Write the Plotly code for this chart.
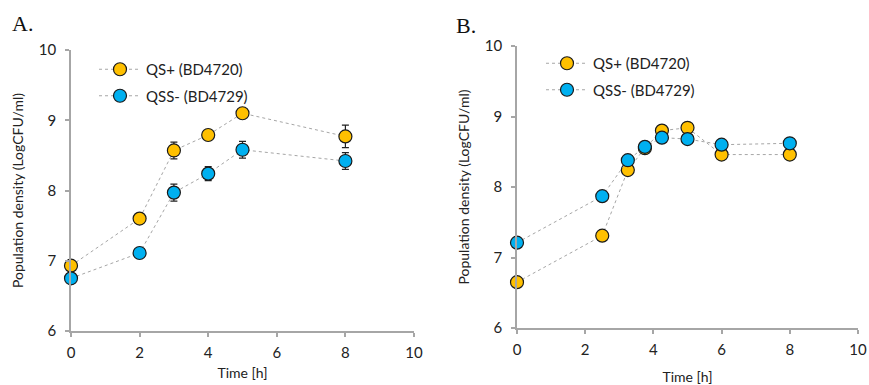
import plotly.graph_objects as go

# ---- Data ----
time_a = [0, 2, 3, 4, 5, 8]
qs_a = [6.93, 7.60, 8.57, 8.79, 9.10, 8.77]
qs_a_err = [0.03, 0.03, 0.12, 0.04, 0.05, 0.16]
qss_a = [6.75, 7.11, 7.97, 8.24, 8.58, 8.42]
qss_a_err = [0.03, 0.03, 0.12, 0.10, 0.12, 0.12]

time_b = [0, 2.5, 3.25, 3.75, 4.25, 5, 6, 8]
qs_b = [6.65, 7.31, 8.24, 8.55, 8.80, 8.84, 8.46, 8.46]
qss_b = [7.21, 7.87, 8.38, 8.57, 8.70, 8.68, 8.60, 8.62]

name_qs = "QS+ (BD4720)"
name_qss = "QSS- (BD4729)"
x_ticks = [0, 2, 4, 6, 8, 10]
y_ticks = [6, 7, 8, 9, 10]

ORANGE = "#FFC000"
BLUE = "#00B0F0"
LINE = "#A6A6A6"
AXIS = "#A6A6A6"
FONT = "Lato, Open Sans, sans-serif"

W, H = 869, 385


def px(x):
    return x / W


def py(y):
    return 1 - y / H


fig = go.Figure()


def add(x, y, err, name, color, xa, ya, legend, grp):
    kw = {}
    if err is not None:
        kw["error_y"] = dict(type="data", array=err, visible=True, color="#222222",
                             thickness=1.2, width=3.5)
    fig.add_trace(go.Scatter(
        x=x, y=y, name=name, mode="lines+markers",
        line=dict(color=LINE, width=1, dash="dot"),
        marker=dict(size=13, color=color, line=dict(color="#1a1a1a", width=1.2)),
        xaxis=xa, yaxis=ya, legend=legend, legendgroup=grp, cliponaxis=False, **kw))


add(time_a, qs_a, qs_a_err, name_qs, ORANGE, "x", "y", "legend", "a1")
add(time_a, qss_a, qss_a_err, name_qss, BLUE, "x", "y", "legend", "a2")
add(time_b, qs_b, None, name_qs, ORANGE, "x2", "y2", "legend2", "b1")
add(time_b, qss_b, None, name_qss, BLUE, "x2", "y2", "legend2", "b2")


def xax(domain, anchor, standoff):
    return dict(domain=domain, anchor=anchor, range=[0, 10], tickvals=x_ticks,
                showgrid=False, zeroline=False, showline=True, linecolor=AXIS, linewidth=1.5,
                ticks="outside", ticklen=4, tickcolor=AXIS, tickwidth=1.5, ticklabelstandoff=3,
                tickfont=dict(size=15, color="#222222", family=FONT),
                title=dict(text="Time [h]", font=dict(size=14, color="#222222", family=FONT),
                           standoff=standoff))


def yax(domain, anchor):
    return dict(domain=domain, anchor=anchor, range=[6, 10], tickvals=y_ticks,
                showgrid=False, zeroline=False, showline=True, linecolor=AXIS, linewidth=1.5,
                ticks="outside", ticklen=4, tickcolor=AXIS, tickwidth=1.5, ticklabelstandoff=6,
                tickfont=dict(size=15, color="#222222", family=FONT),
                title=dict(text="Population density (LogCFU/ml)",
                           font=dict(size=14, color="#222222", family=FONT), standoff=12))


legend_font = dict(size=15, color="#222222", family=FONT)

fig.update_layout(
    width=W, height=H, margin=dict(l=0, r=0, t=0, b=0, autoexpand=False),
    paper_bgcolor="white", plot_bgcolor="white",
    xaxis=xax([px(71), px(414)], "y", 8),
    yaxis=yax([py(331), py(50)], "x"),
    xaxis2=xax([px(517), px(858)], "y2", 15),
    yaxis2=yax([py(328), py(46)], "x2"),
    legend=dict(x=px(94), y=py(53), xanchor="left", yanchor="top", font=legend_font,
                bgcolor="rgba(0,0,0,0)", tracegroupgap=4, itemwidth=42),
    legend2=dict(x=px(541), y=py(47), xanchor="left", yanchor="top", font=legend_font,
                 bgcolor="rgba(0,0,0,0)", tracegroupgap=4, itemwidth=42),
    showlegend=True,
    annotations=[
        dict(text="A.", x=px(10), y=py(23), xref="paper", yref="paper", xanchor="left",
             yanchor="middle", showarrow=False,
             font=dict(size=22, family="Liberation Serif, Times New Roman, serif", color="#111111")),
        dict(text="B.", x=px(454), y=py(25), xref="paper", yref="paper", xanchor="left",
             yanchor="middle", showarrow=False,
             font=dict(size=22, family="Liberation Serif, Times New Roman, serif", color="#111111")),
    ],
)

fig.write_html(
    "out.html",
    config={"displayModeBar": False},
    post_script="document.body.style.margin='0';document.body.style.overflow='hidden';",
)
